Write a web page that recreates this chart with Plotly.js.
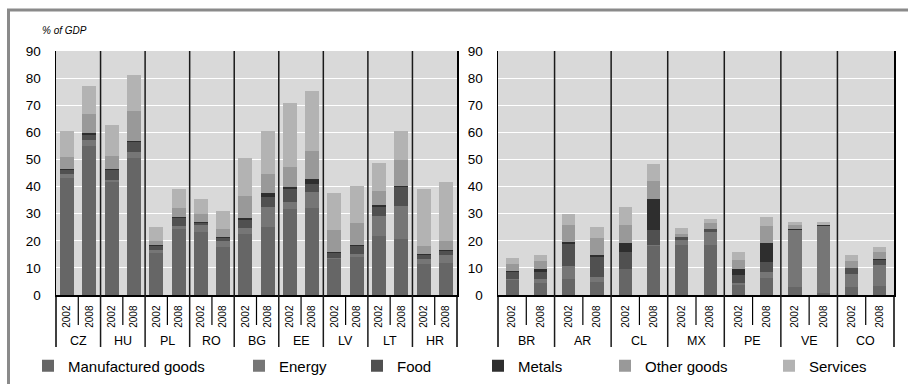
<!DOCTYPE html>
<html><head><meta charset="utf-8">
<script src="https://cdn.plot.ly/plotly-3.0.1.min.js"></script>
<style>html,body{margin:0;padding:0;background:#fff}#chart{width:908px;height:384px}</style>
</head><body><div id="chart"></div><script>
const years = ['2002', '2008'];
const ceeCountries = ['CZ', 'HU', 'PL', 'RO', 'BG', 'EE', 'LV', 'LT', 'HR'];
const latamCountries = ['BR', 'AR', 'CL', 'MX', 'PE', 'VE', 'CO'];
const seriesNames = ['Manufactured goods', 'Energy', 'Food', 'Metals', 'Other goods', 'Services'];
const yTickVals = [0, 10, 20, 30, 40, 50, 60, 70, 80, 90];

// CEE values, % of GDP (country order, 2002 then 2008)
const ceeManufactured = [43.1, 54.9, 41.8, 50.5, 15.5, 24.3, 23.2, 17.7, 22.5, 25.1, 31.7, 32.1, 13.3, 14.0, 21.7, 20.6, 11.4, 11.8];
const ceeEnergy       = [1.5, 2.2, 0.8, 2.2, 1.1, 1.1, 2.5, 2.2, 2.2, 7.3, 2.6, 5.8, 0.3, 1.1, 7.4, 12.2, 1.9, 2.9];
const ceeFood         = [1.5, 1.9, 3.5, 3.7, 1.6, 3.0, 0.8, 1.1, 2.9, 3.7, 4.8, 3.0, 1.9, 3.0, 3.3, 7.0, 1.4, 1.5];
const ceeMetals       = [0.3, 0.7, 0.2, 0.4, 0.3, 0.2, 0.5, 0.5, 0.8, 1.5, 0.7, 1.8, 0.3, 0.3, 0.8, 0.4, 0.3, 0.4];
const ceeOther        = [4.6, 7.0, 4.9, 11.1, 1.5, 3.5, 2.8, 2.8, 8.1, 7.0, 7.4, 10.4, 8.2, 8.1, 5.1, 9.5, 3.1, 3.3];
const ceeServices     = [9.4, 10.3, 11.4, 13.3, 5.1, 7.0, 5.6, 6.6, 14.1, 15.8, 23.5, 22.1, 13.6, 13.7, 10.3, 10.7, 21.0, 21.7];

// Latin America values, % of GDP
const latManufactured = [5.4, 4.3, 5.8, 4.7, 9.5, 18.0, 18.3, 18.3, 3.6, 6.2, 2.8, 0.7, 2.8, 3.2];
const latEnergy       = [0.4, 1.5, 4.8, 1.8, 0.0, 0.3, 1.9, 4.8, 0.7, 2.2, 21.0, 24.6, 4.9, 7.7];
const latFood         = [2.6, 2.6, 8.1, 7.4, 6.2, 5.5, 1.1, 1.1, 3.0, 3.7, 0.0, 0.0, 2.2, 1.9];
const latMetals       = [0.3, 1.1, 0.7, 0.7, 3.4, 11.5, 0.0, 0.0, 2.2, 7.0, 0.4, 0.4, 0.0, 0.4];
const latOther        = [2.6, 2.9, 6.6, 6.3, 6.6, 6.6, 1.1, 2.2, 3.3, 6.2, 1.5, 0.3, 2.5, 2.5];
const latServices     = [2.2, 2.2, 3.7, 4.0, 6.6, 6.3, 2.2, 1.8, 2.9, 3.3, 1.1, 0.8, 2.2, 1.9];

const ceeSeries = [ceeManufactured, ceeEnergy, ceeFood, ceeMetals, ceeOther, ceeServices];
const latSeries = [latManufactured, latEnergy, latFood, latMetals, latOther, latServices];

// styles
const colors = ['#666666', '#767676', '#505050', '#2e2e2e', '#999999', '#b3b3b3'];
const legendIds = ['legend', 'legend2', 'legend3', 'legend4', 'legend5', 'legend6'];
const legendTextStart = [68, 279, 397, 518, 645, 809];
const FONT = 'Liberation Sans, Arial, sans-serif';
const W = 908, H = 384;

function positions(countries) {
  return countries.flatMap((c, i) => years.map((y, j) => i * years.length + j));
}
const ceeX = positions(ceeCountries);
const latX = positions(latamCountries);

const traces = [];
seriesNames.forEach((name, s) => {
  traces.push({
    type: 'bar', name: name, x: ceeX, y: ceeSeries[s], xaxis: 'x', yaxis: 'y',
    width: 0.63, marker: {color: colors[s], line: {width: 0}}, legend: legendIds[s],
    hoverinfo: 'name+y'
  });
});
seriesNames.forEach((name, s) => {
  traces.push({
    type: 'bar', name: name, x: latX, y: latSeries[s], xaxis: 'x2', yaxis: 'y2',
    width: 0.46, marker: {color: colors[s], line: {width: 0}}, showlegend: false,
    hoverinfo: 'name+y'
  });
});

const yDom = [(H - 295) / H, (H - 51) / H];
const yBottomSep = (H - 347) / H;
const yYearSep = (H - 325) / H;

function xAxis(dom, countries, xs) {
  return {
    domain: dom, range: [-0.5, countries.length * years.length - 0.5],
    tickmode: 'array', tickvals: xs, ticktext: xs.map(i => years[i % years.length]),
    tickangle: -90, tickfont: {family: FONT, size: 10, color: '#000'},
    ticks: '', ticklabelstandoff: 5, showline: true, linecolor: '#000', linewidth: 1.5,
    showgrid: false, zeroline: false, fixedrange: true
  };
}
function yAxis(anchor) {
  return {
    domain: yDom, range: [0, 90], tickmode: 'array', tickvals: yTickVals, anchor: anchor,
    tickfont: {family: FONT, size: 13.5, color: '#000'}, ticks: '', ticklabelstandoff: 11,
    showgrid: true, gridcolor: '#ffffff', gridwidth: 1, showline: true, mirror: true,
    linecolor: '#000', linewidth: 1.5, zeroline: false, fixedrange: true
  };
}

const shapes = [];
const annotations = [];
function panelDecor(xref, countries) {
  const n = countries.length, k = years.length;
  for (let g = 0; g <= n; g++) {
    if (g === 0 || g === n) {
      shapes.push({type: 'line', xref: xref + ' domain', yref: 'paper', x0: g === 0 ? 0 : 1, x1: g === 0 ? 0 : 1,
        y0: yBottomSep, y1: yDom[0], line: {color: '#000', width: 1.5}});
    } else {
      shapes.push({type: 'line', xref: xref, yref: 'paper', x0: g * k - 0.5, x1: g * k - 0.5,
        y0: yBottomSep, y1: yDom[1], line: {color: '#1a1a1a', width: 1.5}});
    }
  }
  countries.forEach((c, g) => {
    for (let j = 1; j < k; j++) {
      shapes.push({type: 'line', xref: xref, yref: 'paper', x0: g * k + j - 0.5, x1: g * k + j - 0.5,
        y0: yYearSep, y1: yDom[0], line: {color: '#000', width: 1.2}});
    }
    annotations.push({xref: xref, yref: 'paper', x: g * k + (k - 1) / 2, y: (H - 341) / H,
      text: c, showarrow: false, xanchor: 'center', yanchor: 'middle',
      font: {family: FONT, size: 12.5, color: '#000'}});
  });
}
panelDecor('x', ceeCountries);
panelDecor('x2', latamCountries);

// frame
shapes.push({type: 'line', xref: 'paper', yref: 'paper', x0: 7 / W, x1: 1.01, y0: (H - 10) / H, y1: (H - 10) / H,
  line: {color: '#8a8a8a', width: 3}});
shapes.push({type: 'line', xref: 'paper', yref: 'paper', x0: 8.5 / W, x1: 8.5 / W, y0: -0.01, y1: (H - 10) / H,
  line: {color: '#8a8a8a', width: 3}});

annotations.push({xref: 'paper', yref: 'paper', x: 40 / W, y: (H - 31) / H, xanchor: 'left', yanchor: 'middle',
  text: '<i>% of GDP</i>', showarrow: false, font: {family: FONT, size: 10, color: '#000'}});

const layout = {
  width: W, height: H, margin: {l: 0, r: 0, t: 0, b: 0, autoexpand: false},
  paper_bgcolor: '#ffffff', plot_bgcolor: '#d9d9d9', barmode: 'stack', bargap: 0,
  font: {family: FONT, color: '#000'},
  xaxis: Object.assign(xAxis([56 / W, 457 / W], ceeCountries, ceeX), {anchor: 'y'}),
  yaxis: yAxis('x'),
  xaxis2: Object.assign(xAxis([498 / W, 894 / W], latamCountries, latX), {anchor: 'y2'}),
  yaxis2: yAxis('x2'),
  shapes: shapes, annotations: annotations, showlegend: true
};
legendIds.forEach((id, s) => {
  layout[id] = {x: (legendTextStart[s] - 40) / W, y: (H - 366) / H, xanchor: 'left', yanchor: 'middle',
    orientation: 'h', bgcolor: 'rgba(0,0,0,0)', borderwidth: 0,
    font: {family: FONT, size: 15, color: '#000'}, itemwidth: 30, itemclick: false, itemdoubleclick: false};
});

Plotly.newPlot('chart', traces, layout, {displayModeBar: false, staticPlot: true});
</script></body></html>
